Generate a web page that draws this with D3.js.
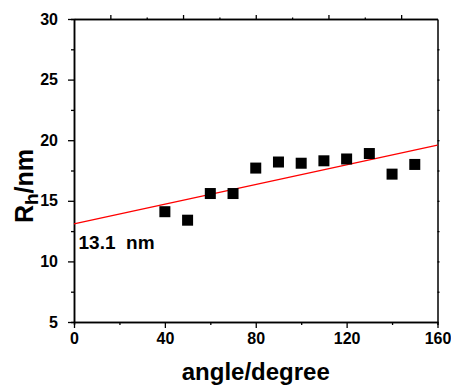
<!DOCTYPE html>
<html>
<head>
<meta charset="utf-8">
<script src="https://cdn.jsdelivr.net/npm/d3@7"></script>
<style>
  body { margin: 0; background: white; }
  svg { display: block; }
  text { font-family: Arial, "Liberation Sans", sans-serif; font-weight: bold; fill: black; }
</style>
</head>
<body>
<div id="chart"></div>
<script>
// Data.
let angles = [40, 50, 60, 70, 80, 90, 100, 110, 120, 130, 140, 150];
let radii = [14.1, 13.4, 15.6, 15.6, 17.7, 18.2, 18.1, 18.3, 18.45, 18.9, 17.2, 18.0];

// Linear fit, end points.
let fitAngles = [0, 160];
let fitRadii = [13.1, 19.6];

let xTicks = [0, 40, 80, 120, 160];
let xMinor = [20, 60, 100, 140];
let yTicks = [5, 10, 15, 20, 25, 30];
let yMinor = [7.5, 12.5, 17.5, 22.5, 27.5];

let fitLabel = "13.1  nm";


let width = 451, height = 387;
let margin = {top: 19, right: 13.5, bottom: 65, left: 74};
let w = width - margin.left - margin.right;
let h = height - margin.top - margin.bottom;

let svg = d3.select("#chart").append("svg")
  .attr("width", width)
  .attr("height", height);

let g = svg.append("g")
  .attr("transform", `translate(${margin.left},${margin.top})`);

let x = d3.scaleLinear().domain([0, 160]).range([0, w]);
let y = d3.scaleLinear().domain([5, 30]).range([h, 0]);

// Frame scales for the mirrored top / right axes (no labels there).
let fx = d3.scaleLinear().domain([0, 1]).range([0, w]);
let fy = d3.scaleLinear().domain([0, 1]).range([h, 0]);


function styleaxis(sel){
  sel.select(".domain").attr("stroke", "black").attr("stroke-width", 1.5);
  sel.selectAll(".tick line").attr("stroke", "black").attr("stroke-width", 1.3);
} // styleaxis


// Minor ticks first so the major ones sit on top.
g.append("g")
  .attr("transform", `translate(0,${h})`)
  .call(d3.axisBottom(x).tickValues(xMinor).tickSize(3).tickFormat(""))
  .call(styleaxis);

g.append("g")
  .attr("transform", `translate(0,${h})`)
  .call(d3.axisBottom(x).tickValues(xTicks).tickSize(6).tickSizeOuter(0))
  .call(styleaxis)
  .call(a=>a.selectAll("text")
    .attr("y", 22).attr("dy", 0)
    .style("font-size", "16px"));

g.append("g")
  .call(d3.axisLeft(y).tickValues(yMinor).tickSize(3).tickFormat(""))
  .call(styleaxis);

g.append("g")
  .call(d3.axisLeft(y).tickValues(yTicks).tickSize(6).tickSizeOuter(0).tickPadding(10))
  .call(styleaxis)
  .call(a=>a.selectAll("text").style("font-size", "16px"));

// Top frame axis.
g.append("g")
  .call(d3.axisTop(fx).tickValues([0.2, 0.4, 0.6, 0.8]).tickSize(1.5).tickSizeOuter(0).tickFormat(""))
  .call(styleaxis);
g.append("g")
  .call(d3.axisTop(fx).tickValues([0.1, 0.3, 0.5, 0.7, 0.9]).tickSize(4).tickSizeOuter(0).tickFormat(""))
  .call(styleaxis);

// Right frame axis.
g.append("g")
  .attr("transform", `translate(${w},0)`)
  .call(d3.axisRight(fy).tickValues(d3.range(1, 10).map(i=>i/10)).tickSize(2).tickSizeOuter(0).tickFormat(""))
  .call(styleaxis);


// Fit line.
let line = d3.line()
  .x(d=>x(d[0]))
  .y(d=>y(d[1]));

g.append("path")
  .datum(fitAngles.map((a,i)=>[a, fitRadii[i]]))
  .attr("d", line)
  .attr("fill", "none")
  .attr("stroke", "red")
  .attr("stroke-width", 1.3);


// Points.
let s = 11;
g.append("g")
  .selectAll("rect")
  .data(angles.map((a,i)=>[a, radii[i]]))
  .enter()
  .append("rect")
    .attr("x", d=>x(d[0]) - s/2)
    .attr("y", d=>y(d[1]) - s/2)
    .attr("width", s)
    .attr("height", s)
    .attr("fill", "black");


// Fit annotation.
g.append("text")
  .attr("x", 4.5)
  .attr("y", 230)
  .style("font-size", "19px")
  .style("white-space", "pre")
  .text(fitLabel);


// Axis titles.
svg.append("text")
  .attr("x", margin.left + w/2)
  .attr("y", 380)
  .attr("text-anchor", "middle")
  .style("font-size", "24px")
  .text("angle/degree");

let ytitle = svg.append("text")
  .attr("transform", "translate(33,186) rotate(-90)")
  .attr("text-anchor", "middle")
  .style("font-size", "25px");
ytitle.append("tspan").text("R");
ytitle.append("tspan").attr("dy", 5).style("font-size", "19px").text("h");
ytitle.append("tspan").attr("dy", -5).text("/nm");
</script>
</body>
</html>
